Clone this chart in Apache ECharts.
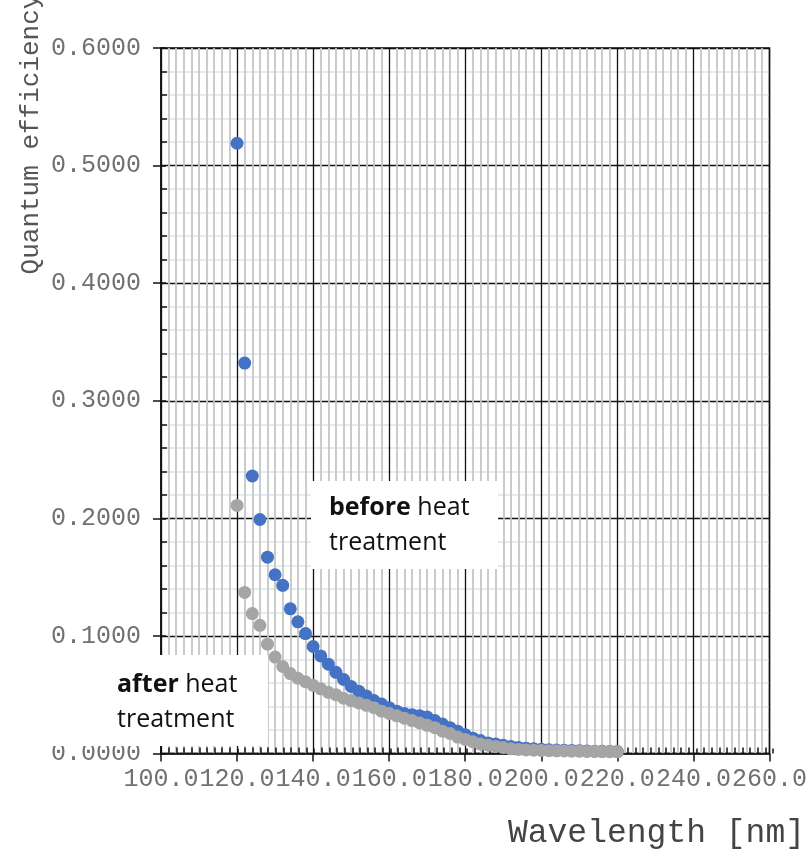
<!DOCTYPE html>
<html>
<head>
<meta charset="utf-8">
<script src="https://cdn.jsdelivr.net/npm/echarts@6/dist/echarts.min.js"></script>
<style>
  html, body { margin: 0; padding: 0; background: #fff; }
  #chart { width: 810px; height: 851px; }
</style>
</head>
<body>
<div id="chart"></div>
<script>
// ---- data ----
const wavelengths = [120,122,124,126,128,130,132,134,136,138,140,142,144,146,148,150,152,154,156,158,160,162,164,166,168,170,172,174,176,178,180,182,184,186,188,190,192,194,196,198,200,202,204,206,208,210,212,214,216,218,220];
const beforeHeat = [0.519,0.332,0.236,0.199,0.167,0.152,0.143,0.123,0.112,0.102,0.091,0.083,0.076,0.069,0.063,0.057,0.053,0.049,0.045,0.042,0.039,0.036,0.034,0.033,0.032,0.031,0.028,0.025,0.022,0.019,0.016,0.013,0.011,0.009,0.008,0.007,0.006,0.005,0.0045,0.004,0.0036,0.0032,0.003,0.0028,0.0026,0.0024,0.0022,0.002,0.0019,0.0018,0.0017];
const afterHeat = [0.211,0.137,0.119,0.109,0.093,0.082,0.074,0.068,0.064,0.061,0.058,0.055,0.052,0.050,0.047,0.045,0.043,0.041,0.039,0.036,0.034,0.032,0.030,0.028,0.026,0.024,0.022,0.019,0.017,0.014,0.012,0.010,0.008,0.007,0.006,0.005,0.004,0.0035,0.003,0.0028,0.0026,0.0024,0.0023,0.0022,0.002,0.0019,0.0018,0.0017,0.0016,0.0015,0.0014];
const xMin = 100, xMax = 260, xStep = 20;
const yMin = 0, yMax = 0.6, yStep = 0.1;
const xTitle = 'Wavelength [nm]';
const yTitle = 'Quantum efficiency';
const labelBefore = '{b|before} heat\ntreatment';
const labelAfter = '{b|after} heat\ntreatment';

const pairs = (xs, ys) => xs.map((x, i) => [x, ys[i]]);

const mono = '"Liberation Mono", "DejaVu Sans Mono", monospace';
const sans = '"Open Sans", sans-serif';
const gridRect = { left: 161, top: 48, width: 612, height: 705.5 };

const chart = echarts.init(document.getElementById('chart'), null, { renderer: 'canvas' });
chart.setOption({
  animation: false,
  backgroundColor: '#fff',
  grid: [
    Object.assign({ show: true, borderColor: '#111', borderWidth: 1.5, backgroundColor: 'transparent' }, gridRect),
    Object.assign({ show: false }, gridRect)
  ],
  xAxis: [
    {
      type: 'value', gridIndex: 0, min: xMin, max: xMax, interval: xStep,
      axisLine: { show: true, onZero: false, lineStyle: { color: '#111', width: 1.5 } },
      axisTick: { show: true, inside: false, length: 8, lineStyle: { color: '#111', width: 1.5 } },
      axisLabel: { margin: 13, color: '#707070', fontFamily: mono, fontSize: 25,
        formatter: v => v.toFixed(1), showMinLabel: true, showMaxLabel: true, hideOverlap: false },
      splitLine: { show: true, lineStyle: { color: '#111', width: 1.3 } },
      minorTick: { show: false, splitNumber: 10 },
      minorSplitLine: { show: true, lineStyle: { color: '#c6c6c6', width: 1.8 } }
    },
    {
      type: 'value', gridIndex: 1, min: xMin, max: xMax, interval: xStep,
      axisLine: { show: false, onZero: false },
      axisTick: { show: true, inside: true, length: 5, lineStyle: { color: '#111', width: 1.5 } },
      axisLabel: { show: false },
      splitLine: { show: false },
      minorTick: { show: true, splitNumber: 10, length: 6, lineStyle: { color: '#111', width: 1.5 } }
    }
  ],
  yAxis: [
    {
      type: 'value', gridIndex: 0, min: yMin, max: yMax, interval: yStep,
      axisLine: { show: true, onZero: false, lineStyle: { color: '#111', width: 1.5 } },
      axisTick: { show: true, inside: false, length: 8, lineStyle: { color: '#111', width: 1.5 } },
      axisLabel: { margin: 20, color: '#707070', fontFamily: mono, fontSize: 25,
        formatter: v => v.toFixed(4) },
      splitLine: { show: true, lineStyle: { color: '#111', width: 1.3 } },
      minorTick: { show: false, splitNumber: 5 },
      minorSplitLine: { show: true, lineStyle: { color: '#d9e3ee', width: 1.6 } }
    },
    {
      type: 'value', gridIndex: 1, min: yMin, max: yMax, interval: yStep,
      axisLine: { show: false, onZero: false },
      axisTick: { show: true, inside: true, length: 5, lineStyle: { color: '#111', width: 1.5 } },
      axisLabel: { show: false },
      splitLine: { show: false },
      minorTick: { show: true, splitNumber: 5, length: 6, lineStyle: { color: '#111', width: 1.5 } }
    }
  ],
  series: [
    {
      name: 'before heat treatment', type: 'scatter', xAxisIndex: 0, yAxisIndex: 0,
      data: pairs(wavelengths, beforeHeat), symbol: 'circle', symbolSize: 13,
      itemStyle: { color: '#4472C4', opacity: 1 }, z: 3
    },
    {
      name: 'after heat treatment', type: 'scatter', xAxisIndex: 0, yAxisIndex: 0,
      data: pairs(wavelengths, afterHeat), symbol: 'circle', symbolSize: 13,
      itemStyle: { color: '#A5A5A5', opacity: 1 }, z: 4
    }
  ],
  graphic: [
    { type: 'rect', z: 100, shape: { x: 311, y: 481, width: 187, height: 88 }, style: { fill: '#ffffff' } },
    { type: 'text', z: 101, x: 329, y: 490,
      style: { text: labelBefore, fill: '#111', fontFamily: sans, fontSize: 25, lineHeight: 35,
        rich: { b: { fontWeight: 'bold', fontFamily: sans, fontSize: 25, lineHeight: 35, fill: '#111' } } } },
    { type: 'rect', z: 100, shape: { x: 40, y: 655, width: 228, height: 91 }, style: { fill: '#ffffff' } },
    { type: 'text', z: 101, x: 117, y: 667,
      style: { text: labelAfter, fill: '#111', fontFamily: sans, fontSize: 25, lineHeight: 35,
        rich: { b: { fontWeight: 'bold', fontFamily: sans, fontSize: 25, lineHeight: 35, fill: '#111' } } } },
    { type: 'text', z: 50, x: 805, y: 833,
      style: { text: xTitle, fill: '#444', fontFamily: mono, fontSize: 33, align: 'right', verticalAlign: 'middle' } },
    { type: 'text', z: 50, x: 31, y: 134, rotation: Math.PI / 2,
      style: { text: yTitle, fill: '#555', fontFamily: mono, fontSize: 26, align: 'center', verticalAlign: 'middle' } }
  ]
});
</script>
</body>
</html>
